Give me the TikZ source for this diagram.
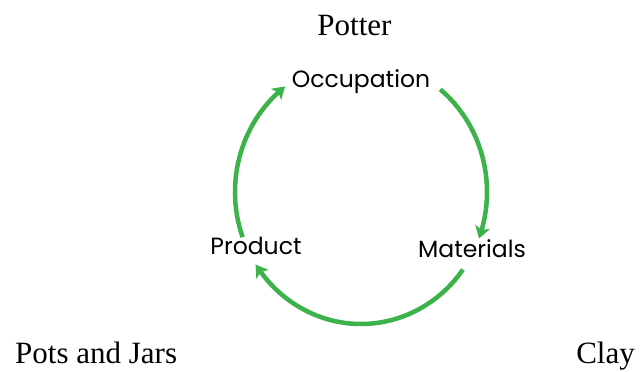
\documentclass[tikz,border=0pt]{standalone}
\usepackage{fontspec}
\setmainfont{Liberation Serif}
\newfontfamily\labelfont{Poppins}
\usetikzlibrary{arrows.meta,bending}
\definecolor{cyclegreen}{RGB}{60,178,75}
\tikzset{
  toptext/.style={font=\fontsize{31}{37}\selectfont, inner sep=0pt},
  steptext/.style={font=\labelfont\fontsize{23.5}{28}\selectfont, inner sep=0pt, anchor=base},
  cyclearrow/.style={draw=cyclegreen, line width=4.5pt, -{Stealth[length=12pt,width=15pt,inset=3pt,bend]}},
}
\begin{document}
\begin{tikzpicture}[x=1pt,y=1pt]
\useasboundingbox (0,0) rectangle (640,372);
\node[toptext, anchor=base] (potter) at (354.5,336) {Potter};
\node[toptext, anchor=base west] (pots) at (15,8) {Pots and Jars};
\node[toptext, anchor=base east] (clay) at (635,8) {Clay};
\node[steptext] (occ) at (361,284) {Occupation};
\node[steptext] (prod) at (256,117) {Product};
\node[steptext] (mat) at (472,114) {Materials};
\coordinate (c) at (361,180);
\draw[cyclearrow] (c) ++(51:126pt and 132pt) arc[start angle=51, end angle=-20.6, x radius=126pt, y radius=132pt];
\draw[cyclearrow] (c) ++(-36:126pt and 132pt) arc[start angle=-36, end angle=-146.7, x radius=126pt, y radius=132pt];
\draw[cyclearrow] (c) ++(200:126pt and 132pt) arc[start angle=200, end angle=127, x radius=126pt, y radius=132pt];
\end{tikzpicture}
\end{document}
